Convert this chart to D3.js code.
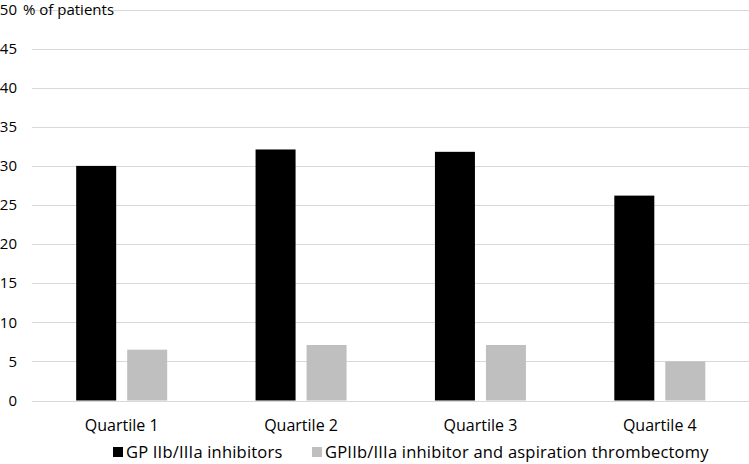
<!DOCTYPE html>
<html>
<head>
<meta charset="utf-8">
<script src="https://cdn.jsdelivr.net/npm/d3@7"></script>
<style>
  body { margin: 0; background: #fff; }
  text { font-family: "Open Sans", sans-serif; fill: #000; }
</style>
</head>
<body>
<div class="canva"></div>
<script>
// data
const categories = ["Quartile 1", "Quartile 2", "Quartile 3", "Quartile 4"];
const seriesNames = ["GP IIb/IIIa inhibitors", "GPIIb/IIIa inhibitor and aspiration thrombectomy"];
const gpInhibitors = [30.0, 32.1, 31.8, 26.2];
const gpAspiration = [6.5, 7.1, 7.1, 5.0];
const yTicks = [0, 5, 10, 15, 20, 25, 30, 35, 40, 45, 50];
const colors = ["#000000", "#bfbfbf"];

const width = 749, height = 464;
const margin = {top: 9.5, right: 0, bottom: 63.5, left: 32};

const svg = d3.select(".canva").append("svg")
  .attr("width", width)
  .attr("height", height);

const x = d3.scaleBand()
  .domain(categories)
  .range([margin.left, width - margin.right + 0.5])
  .paddingInner(0)
  .paddingOuter(0);

const y = d3.scaleLinear()
  .domain([0, 50])
  .range([height - margin.bottom, margin.top]);

// gridlines
svg.append("g")
  .selectAll("line")
  .data(yTicks)
  .join("line")
  .attr("x1", margin.left)
  .attr("x2", width)
  .attr("y1", d => Math.round(y(d)) + 0.5)
  .attr("y2", d => Math.round(y(d)) + 0.5)
  .attr("stroke", "#d9d9d9")
  .attr("stroke-width", 1);

// y labels
svg.append("g")
  .selectAll("text")
  .data(yTicks)
  .join("text")
  .attr("x", 17)
  .attr("y", d => y(d))
  .attr("dy", "0.35em")
  .attr("text-anchor", "end")
  .style("font-size", "15px")
  .text(d => d);

svg.append("text")
  .attr("x", 23)
  .attr("y", y(50))
  .attr("dy", "0.35em")
  .style("font-size", "15px")
  .text("% of patients");

// bars
const barW = 40, gap = 11;
const x1 = d3.scaleOrdinal().domain([0, 1]).range([0, barW + gap]);
const groupOffset = (x.bandwidth() - (2 * barW + gap)) / 2;

const rows = categories.map((c, i) => ({cat: c, vals: [gpInhibitors[i], gpAspiration[i]]}));

const groups = svg.append("g")
  .selectAll("g")
  .data(rows)
  .join("g")
  .attr("transform", d => `translate(${x(d.cat) + groupOffset},0)`);

groups.selectAll("rect")
  .data(d => d.vals.map((v, k) => ({v, k})))
  .join("rect")
  .attr("x", d => x1(d.k))
  .attr("y", d => y(d.v))
  .attr("width", barW)
  .attr("height", d => y(0) - y(d.v))
  .attr("fill", d => colors[d.k]);

// category labels
svg.append("g")
  .selectAll("text")
  .data(categories)
  .join("text")
  .attr("x", d => x(d) + x.bandwidth() / 2)
  .attr("y", 431)
  .attr("text-anchor", "middle")
  .style("font-size", "16px")
  .text(d => d);

// legend
const legendX = [113, 312];
const legend = svg.append("g")
  .selectAll("g")
  .data(seriesNames)
  .join("g")
  .attr("transform", (d, i) => `translate(${legendX[i]},452)`);

legend.append("rect")
  .attr("x", 0)
  .attr("y", -5)
  .attr("width", 10)
  .attr("height", 10)
  .attr("fill", (d, i) => colors[i]);

legend.append("text")
  .attr("x", 13)
  .attr("y", 0)
  .attr("dy", "0.35em")
  .style("font-size", "16.5px")
  .style("letter-spacing", "0.2px")
  .text(d => d);
</script>
</body>
</html>
